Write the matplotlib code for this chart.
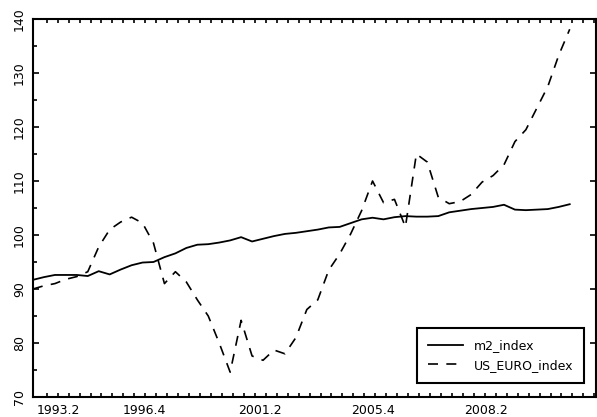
#!/usr/bin/env python3

import matplotlib
matplotlib.use('Agg')
import matplotlib.pyplot as plt
import numpy as np

m2_index = [
    91.7, 92.2, 92.6, 92.6, 92.6, 92.4, 93.3, 92.7, 93.6, 94.4,
    94.9, 95.0, 95.9, 96.6, 97.6, 98.2, 98.3, 98.6, 99.0, 99.6,
    98.8, 99.3, 99.8, 100.2, 100.4, 100.7, 101.0, 101.4, 101.5, 102.2,
    102.9, 103.2, 102.9, 103.3, 103.5, 103.4, 103.4, 103.5, 104.2, 104.5,
    104.8, 105.0, 105.2, 105.6, 104.7, 104.6, 104.7, 104.8, 105.2, 105.7,
]
us_euro_index = [
    90.0, 90.6, 91.0, 91.8, 92.3, 93.2, 97.8, 101.0, 102.4, 103.3,
    102.2, 98.5, 91.0, 93.2, 91.3, 88.0, 85.0, 80.0, 74.6, 84.2,
    77.6, 76.8, 78.7, 78.0, 81.0, 86.2, 88.0, 93.5, 96.5, 100.2,
    104.5, 110.0, 106.0, 106.6, 101.5, 115.0, 113.5, 107.0, 105.8, 106.2,
    107.5, 109.8, 111.0, 113.0, 117.3, 119.5, 123.5, 127.5, 133.3, 138.1,
]
x_labels = ['1993.2', '1996.4', '2001.2', '2005.4', '2008.2']
x_label_pos = [2.3, 10.2, 20.7, 31.0, 41.4]
y_ticks = [70, 80, 90, 100, 110, 120, 130, 140]


def main():
    fig = plt.figure(figsize=(5.97, 4.17), dpi=100)
    ax = fig.add_axes([33 / 597, 20 / 417, 563 / 597, 378 / 417])

    x = np.arange(len(m2_index))
    ax.plot(x, m2_index, color='black', lw=1.3, label='m2_index')
    ax.plot(x, us_euro_index, color='black', lw=1.2, dashes=(6, 5),
            label='US_EURO_index')

    ax.set_xlim(0, 51.4)
    ax.set_ylim(70, 140)

    # x axis: labels without marks, quarterly minor ticks
    ax.set_xticks(x_label_pos)
    ax.set_xticklabels(x_labels)
    ax.set_xticks(np.arange(1.25, 51.3, 1.0), minor=True)
    ax.tick_params(axis='x', which='major', length=0, pad=5, labelsize=9)
    ax.tick_params(axis='x', which='minor', direction='in', length=3,
                   width=1.2, top=True, bottom=True)

    # y axis: rotated labels, inward ticks on both sides
    ax.set_yticks(y_ticks)
    ax.set_yticklabels([str(v) for v in y_ticks], rotation=90, va='center')
    ax.set_yticks(np.arange(75, 140, 10), minor=True)
    ax.tick_params(axis='y', which='major', direction='in', length=4,
                   width=1.2, left=True, right=True, pad=5, labelsize=9)
    ax.tick_params(axis='y', which='minor', direction='in', length=3,
                   width=1.2, left=True, right=False)

    for s in ax.spines.values():
        s.set_linewidth(1.5)

    leg = ax.legend(loc='lower right', bbox_to_anchor=(0.979, 0.037),
                    fontsize=9, fancybox=False, edgecolor='black',
                    framealpha=1, handlelength=2.8, borderpad=0.9,
                    labelspacing=0.5, handletextpad=0.8, borderaxespad=0)
    leg.get_frame().set_linewidth(1.5)

    plt.savefig('out.png', dpi=100)
    plt.close()


if __name__ == '__main__':
    main()
